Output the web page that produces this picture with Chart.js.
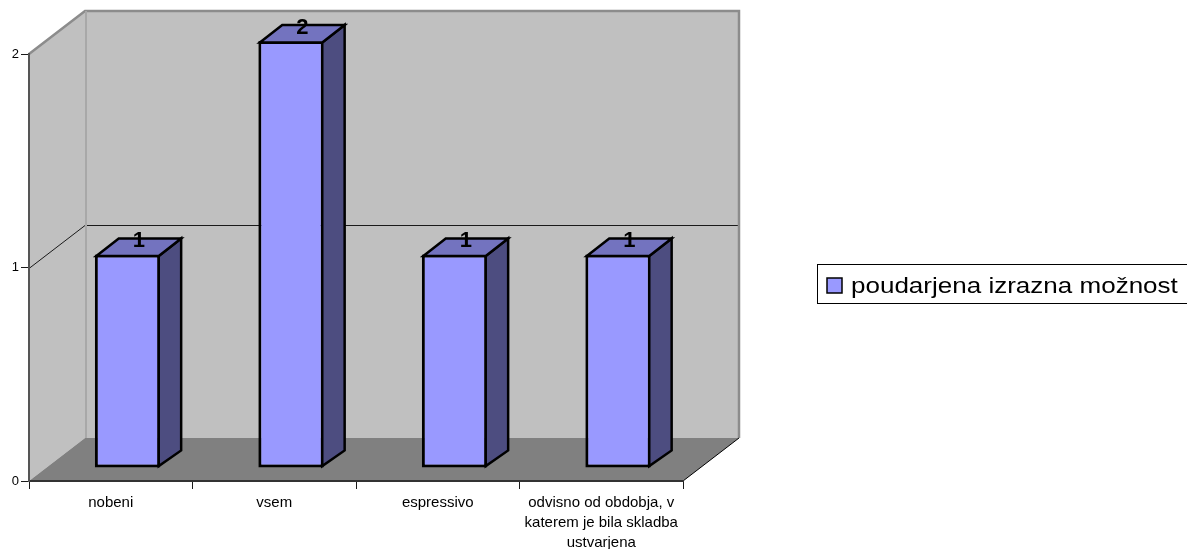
<!DOCTYPE html>
<html>
<head>
<meta charset="utf-8">
<script src="https://cdn.jsdelivr.net/npm/chart.js@4.4.1/dist/chart.umd.min.js"></script>
<style>
  html, body { margin: 0; padding: 0; background: #ffffff; }
  #wrap { position: relative; width: 1187px; height: 549px; }
</style>
</head>
<body>
<div id="wrap"><canvas id="chart"></canvas></div>
<script>
// Categories (multi-line label given as an array of lines)
const categories = [
  'nobeni',
  'vsem',
  'espressivo',
  ['odvisno od obdobja, v', 'katerem je bila skladba', 'ustvarjena']
];
const seriesName = 'poudarjena izrazna možnost';
const counts = [1, 2, 1, 1];

// Value axis range and tick step
const valueMin = 0;
const valueMax = 2;
const valueStep = 1;

// Box depth: offset of the back wall relative to the front plane
const DX = 56;
const DY = -43;
// Bars sit between these fractions of the depth
const BAR_FRONT = 0.3;
const BAR_BACK = 0.7;

const FACE_COLOR = '#9999ff';
const SIDE_COLOR = '#4d4d80';
const TOP_COLOR = '#7373bf';
const WALL_COLOR = '#c0c0c0';
const FLOOR_COLOR = '#808080';

function polygon(ctx, pts) {
  ctx.beginPath();
  ctx.moveTo(pts[0][0], pts[0][1]);
  for (let i = 1; i < pts.length; i++) ctx.lineTo(pts[i][0], pts[i][1]);
  ctx.closePath();
}

// Walls, floor, gridlines, bar sides/tops and value labels
const box3d = {
  id: 'box3d',
  beforeDraw(chart) {
    const { ctx, chartArea: a, scales: { y } } = chart;
    const L = a.left, R = a.right;
    const yTop = y.getPixelForValue(valueMax);
    const y0 = y.getPixelForValue(valueMin);
    ctx.save();
    // left wall
    ctx.fillStyle = WALL_COLOR;
    polygon(ctx, [[L, yTop], [L + DX, yTop + DY], [L + DX, y0 + DY], [L, y0]]);
    ctx.fill();
    // back wall
    ctx.fillRect(L + DX, yTop + DY, R - L, y0 - yTop);
    // floor
    ctx.fillStyle = FLOOR_COLOR;
    polygon(ctx, [[L, y0], [R, y0], [R + DX, y0 + DY], [L + DX, y0 + DY]]);
    ctx.fill();

    // gridlines at inner ticks
    ctx.strokeStyle = '#1a1a1a';
    ctx.lineWidth = 1;
    y.ticks.forEach(t => {
      if (t.value <= valueMin || t.value >= valueMax) return;
      const py = Math.round(y.getPixelForValue(t.value)) + 0.5;
      ctx.beginPath();
      ctx.moveTo(L, py);
      ctx.lineTo(L + DX, py + DY);
      ctx.lineTo(R + DX, py + DY);
      ctx.stroke();
    });

    // back wall outline
    ctx.strokeStyle = '#8c8c8c';
    ctx.lineWidth = 2.5;
    ctx.beginPath();
    ctx.moveTo(L, yTop);
    ctx.lineTo(L + DX, yTop + DY);
    ctx.lineTo(R + DX, yTop + DY);
    ctx.lineTo(R + DX, y0 + DY);
    ctx.stroke();
    ctx.strokeStyle = '#a8a8a8';
    ctx.lineWidth = 2;
    ctx.beginPath();
    ctx.moveTo(L + DX + 1, yTop + DY);
    ctx.lineTo(L + DX + 1, y0 + DY);
    ctx.stroke();

    // floor right edge
    ctx.strokeStyle = '#000000';
    ctx.lineWidth = 1;
    ctx.beginPath();
    ctx.moveTo(R, y0);
    ctx.lineTo(R + DX, y0 + DY);
    ctx.stroke();
    ctx.restore();
  },
  beforeDatasetsDraw(chart) {
    chart.ctx.save();
    chart.ctx.translate(DX * BAR_FRONT, DY * BAR_FRONT);
  },
  afterDatasetsDraw(chart) {
    const ctx = chart.ctx;
    ctx.restore();
    const ox = DX * BAR_FRONT, oy = DY * BAR_FRONT;
    const dx = DX * (BAR_BACK - BAR_FRONT), dy = DY * (BAR_BACK - BAR_FRONT);
    const meta = chart.getDatasetMeta(0);
    const data = chart.data.datasets[0].data;
    ctx.save();
    ctx.lineJoin = 'miter';
    meta.data.forEach((el, i) => {
      const p = el.getProps(['x', 'y', 'base', 'width'], true);
      const left = p.x - p.width / 2 + ox;
      const right = p.x + p.width / 2 + ox;
      const top = p.y + oy;
      const bottom = p.base + oy;
      // side face
      ctx.fillStyle = SIDE_COLOR;
      ctx.strokeStyle = '#000';
      ctx.lineWidth = 2.5;
      polygon(ctx, [[right - 1.5, top + 1.5], [right - 1.5 + dx, top + dy + 1], [right - 1.5 + dx, bottom + dy], [right - 1.5, bottom - 1.5]]);
      ctx.fill();
      ctx.stroke();
      // top face
      ctx.fillStyle = TOP_COLOR;
      polygon(ctx, [[left + 1.5, top + 1.5], [left + 1.5 + dx, top + dy + 1], [right - 1.5 + dx, top + dy + 1], [right - 1.5, top + 1.5]]);
      ctx.fill();
      ctx.stroke();
      // value label
      ctx.fillStyle = '#000';
      ctx.font = 'bold 22px "Liberation Sans", Arial, sans-serif';
      ctx.textAlign = 'center';
      ctx.textBaseline = 'alphabetic';
      ctx.fillText(String(data[i]), (left + right + dx) / 2, top + dy / 2 + 1);
    });
    ctx.restore();
  },
  afterDraw(chart) {
    // legend box
    const ctx = chart.ctx;
    const ds = chart.data.datasets[0];
    ctx.save();
    ctx.strokeStyle = '#000';
    ctx.lineWidth = 1;
    ctx.strokeRect(817.5, 264.5, 400, 39);
    ctx.fillStyle = ds.backgroundColor;
    ctx.fillRect(827, 278, 15, 15);
    ctx.lineWidth = 1.5;
    ctx.strokeRect(827, 278, 15, 15);
    ctx.fillStyle = '#000';
    ctx.font = '21.5px "Liberation Sans", Arial, sans-serif';
    ctx.textBaseline = 'alphabetic';
    ctx.textAlign = 'left';
    ctx.translate(851, 293);
    ctx.scale(1.21, 1);
    ctx.fillText(ds.label, 0, 0);
    ctx.restore();
  }
};

new Chart(document.getElementById('chart'), {
  type: 'bar',
  data: {
    labels: categories,
    datasets: [{
      label: seriesName,
      data: counts,
      backgroundColor: FACE_COLOR,
      borderColor: '#000000',
      borderWidth: 3,
      borderSkipped: false,
      categoryPercentage: 1.0,
      barPercentage: 0.4,
      clip: false
    }]
  },
  options: {
    responsive: true,
    maintainAspectRatio: false,
    animation: false,
    events: [],
    devicePixelRatio: 1,
    layout: { padding: { top: 54, right: 504, left: 0, bottom: 0 } },
    plugins: {
      legend: { display: false },
      tooltip: { enabled: false }
    },
    scales: {
      x: {
        offset: true,
        afterFit(scale) { scale.height = 68; },
        grid: {
          offset: true,
          drawOnChartArea: false,
          drawTicks: true,
          tickLength: 8,
          color: '#1a1a1a',
          lineWidth: 1
        },
        border: { display: true, color: '#333333', width: 2 },
        ticks: {
          color: '#000',
          autoSkip: false,
          maxRotation: 0,
          padding: 4,
          font: { family: '"Liberation Sans", Arial, sans-serif', size: 15, lineHeight: 1.33 }
        }
      },
      y: {
        min: valueMin,
        max: valueMax,
        afterFit(scale) { scale.width = 29; },
        grid: {
          drawOnChartArea: false,
          drawTicks: true,
          tickLength: 8,
          color: '#1a1a1a',
          lineWidth: 1
        },
        border: { display: true, color: '#555555', width: 2 },
        ticks: {
          stepSize: valueStep,
          color: '#000',
          padding: 2,
          font: { family: '"Liberation Sans", Arial, sans-serif', size: 13 }
        }
      }
    }
  },
  plugins: [box3d]
});
</script>
</body>
</html>
